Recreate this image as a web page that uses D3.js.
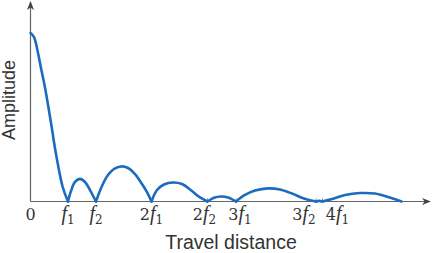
<!DOCTYPE html>
<html>
<head>
<meta charset="utf-8">
<script src="https://cdn.jsdelivr.net/npm/d3@7"></script>
<style>
  body { margin: 0; background: #fff; }
  svg { display: block; }
</style>
</head>
<body>
<div id="chart"></div>
<script>
// Tick positions (travel distance units) and their labels
const tickPos = [0, 3.75, 6.55, 12.1, 17.7, 20.55, 28.55, 29.2]
const tickCoef = ['0', '', '', '2', '2', '3', '3', '4']
const tickSub = [null, '1', '2', '1', '2', '1', '2', '1']

// Curve, one array per lobe: [distance, amplitude]
const lobe1 = [[0, 1], [0.35, 0.976], [0.75, 0.881], [1.1, 0.777], [1.45, 0.677], [2.02, 0.478], [2.55, 0.282], [3.22, 0.086], [3.75, 0]]
const lobe2 = [[3.75, 0], [4.05, 0.062], [4.45, 0.116], [4.95, 0.134], [5.45, 0.116], [5.95, 0.068], [6.55, 0]]
const lobe3 = [[6.55, 0], [7.15, 0.092], [7.75, 0.157], [8.35, 0.193], [9.05, 0.208], [9.75, 0.199], [10.45, 0.163], [11.15, 0.104], [11.65, 0.056], [12.1, 0]]
const lobe4 = [[12.1, 0], [12.65, 0.068], [13.35, 0.101], [14.25, 0.113], [15.15, 0.104], [16.15, 0.062], [16.95, 0.024], [17.7, 0]]
const lobe5 = [[17.7, 0], [18.35, 0.022], [19.05, 0.03], [19.75, 0.024], [20.55, 0]]
const lobe6 = [[20.55, 0], [21.45, 0.039], [22.45, 0.065], [23.75, 0.078], [24.95, 0.071], [26.15, 0.047], [27.35, 0.018], [28.55, 0]]
const lobe7 = [[28.55, 0], [28.85, 0.004], [29.2, 0]]
const lobe8 = [[29.2, 0], [30.15, 0.015], [31.45, 0.039], [32.95, 0.05], [34.45, 0.047], [35.75, 0.027], [37.1, 0]]
const lobes = [lobe1, lobe2, lobe3, lobe4, lobe5, lobe6, lobe7, lobe8]

const width = 432
const height = 253
const x0 = 30.5, y0 = 201.5

const svg = d3.select('#chart').append('svg')
  .attr('width', width)
  .attr('height', height)

const x = d3.scaleLinear().domain([0, 40]).range([x0, x0 + 400])
const y = d3.scaleLinear().domain([0, 1]).range([y0, 33])

// arrow heads
const defs = svg.append('defs')
defs.append('marker')
    .attr('id', 'arrow')
    .attr('viewBox', '0 0 10 10')
    .attr('refX', 9).attr('refY', 5)
    .attr('markerWidth', 9).attr('markerHeight', 9)
    .attr('markerUnits', 'userSpaceOnUse')
    .attr('orient', 'auto')
  .append('path')
    .attr('d', 'M0,1 L10,5 L0,9 L3,5 Z')
    .attr('fill', '#444')

// axes
svg.append('line')
    .attr('x1', x0).attr('y1', y0)
    .attr('x2', x0).attr('y2', 2)
    .attr('stroke', '#666').attr('stroke-width', 1.2)
    .attr('marker-end', 'url(#arrow)')

svg.append('line')
    .attr('x1', x0).attr('y1', y0)
    .attr('x2', 430).attr('y2', y0)
    .attr('stroke', '#666').attr('stroke-width', 1.2)
    .attr('marker-end', 'url(#arrow)')

// small ticks
svg.selectAll('.tick')
    .data(tickPos.slice(1))
  .enter()
  .append('line')
    .attr('class', 'tick')
    .attr('x1', d => x(d)).attr('x2', d => x(d))
    .attr('y1', y0 - 3).attr('y2', y0 + 1.5)
    .attr('stroke', '#666').attr('stroke-width', 0.8)

// curve
const line = d3.line()
  .x(d => x(d[0]))
  .y(d => y(d[1]))
  .curve(d3.curveCatmullRom.alpha(0.5))

svg.selectAll('.lobe')
    .data(lobes)
  .enter()
  .append('path')
    .attr('class', 'lobe')
    .attr('d', line)
    .attr('fill', 'none')
    .attr('stroke', '#1b6cbf')
    .attr('stroke-width', 2.6)
    .attr('stroke-linecap', 'round')

// tick labels (the last two are nudged apart so they don't collide)
const nudge = [0, 0, 0, 0, -3, 4, -12, 15]
const labels = svg.selectAll('.tlabel')
    .data(tickPos)
  .enter()
  .append('text')
    .attr('class', 'tlabel')
    .attr('x', (d, i) => x(d) + nudge[i])
    .attr('y', 219.5)
    .attr('text-anchor', 'middle')
    .attr('font-family', '"DejaVu Serif", "Liberation Serif", serif')
    .attr('font-size', 16)
    .attr('fill', '#333')

labels.each(function(d, i) {
  const t = d3.select(this)
  t.append('tspan').text(tickCoef[i])
  if (tickSub[i]) {
    t.append('tspan').attr('font-style', 'italic').attr('font-family', '"Liberation Serif", serif').attr('font-size', 20).text('f')
    t.append('tspan').attr('font-size', 12).attr('dy', 4).text(tickSub[i])
  }
})

// axis titles
svg.append('text')
    .attr('x', 231).attr('y', 249)
    .attr('text-anchor', 'middle')
    .attr('font-family', '"Liberation Sans", Arial, sans-serif')
    .attr('font-size', 19.5)
    .attr('fill', '#333')
    .text('Travel distance')

svg.append('text')
    .attr('transform', 'translate(15,100) rotate(-90)')
    .attr('text-anchor', 'middle')
    .attr('font-family', '"Liberation Sans", Arial, sans-serif')
    .attr('font-size', 18)
    .attr('fill', '#333')
    .text('Amplitude')
</script>
</body>
</html>
